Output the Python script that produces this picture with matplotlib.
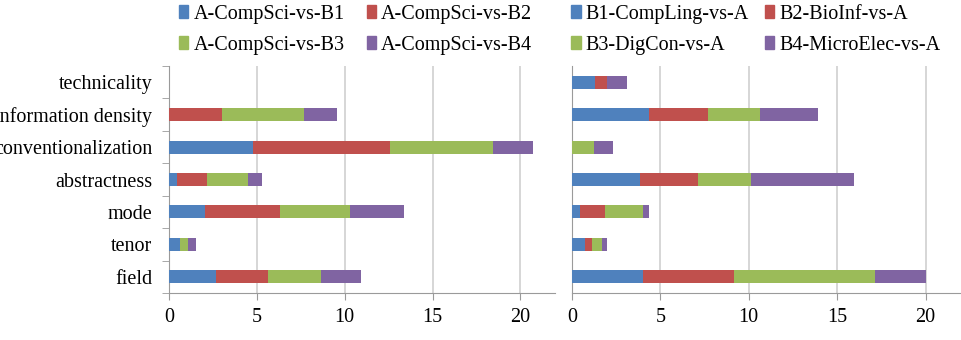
import matplotlib.pyplot as plt
import numpy as np
from matplotlib.patches import Patch

plt.rcParams['font.family'] = ['Liberation Serif', 'DejaVu Serif']

categories = ['field', 'tenor', 'mode', 'abstractness', 'conventionalization',
              'information density', 'technicality']

left_labels = ['A-CompSci-vs-B1', 'A-CompSci-vs-B2', 'A-CompSci-vs-B3', 'A-CompSci-vs-B4']
left_b1 = [2.68, 0.60, 2.02, 0.45, 4.76, 0.00, 0.00]
left_b2 = [2.97, 0.00, 4.29, 1.72, 7.79, 3.02, 0.00]
left_b3 = [2.97, 0.48, 3.99, 2.31, 5.92, 4.67, 0.00]
left_b4 = [2.33, 0.47, 3.08, 0.83, 2.23, 1.89, 0.00]

right_labels = ['B1-CompLing-vs-A', 'B2-BioInf-vs-A', 'B3-DigCon-vs-A', 'B4-MicroElec-vs-A']
right_b1 = [4.00, 0.72, 0.47, 3.88, 0.00, 4.39, 1.29]
right_b2 = [5.15, 0.40, 1.42, 3.27, 0.00, 3.30, 0.69]
right_b3 = [8.00, 0.60, 2.11, 3.00, 1.25, 2.97, 0.00]
right_b4 = [2.85, 0.28, 0.37, 5.82, 1.09, 3.27, 1.12]

colors = ['#4f81bd', '#c0504d', '#9bbb59', '#8064a2']
xticks = [0, 5, 10, 15, 20]
fsize = 14.5


def draw_panel(ax, series, show_labels):
    y = np.arange(len(categories))
    left = np.zeros(len(categories))
    for vals, col in zip(series, colors):
        ax.barh(y, vals, left=left, height=0.4, color=col, zorder=3)
        left = left + np.array(vals)
    ax.set_xlim(0, 22)
    ax.set_ylim(-0.5, len(categories) - 0.5)
    ax.set_xticks(xticks)
    ax.grid(axis='x', color='#d0d0d0', linewidth=1.2, zorder=0)
    for s in ['top', 'right']:
        ax.spines[s].set_visible(False)
    for s in ['left', 'bottom']:
        ax.spines[s].set_color('#9a9a9a')
    ax.tick_params(axis='x', colors='#9a9a9a', length=5, labelsize=fsize,
                   labelcolor='black', pad=6)
    if show_labels:
        ax.set_yticks(y)
        ax.set_yticklabels(categories, fontsize=fsize)
        ax.set_yticks(np.arange(-0.5, len(categories)), minor=True)
        ax.tick_params(axis='y', which='major', length=0, pad=12)
        ax.tick_params(axis='y', which='minor', length=5, colors='#9a9a9a')
    else:
        ax.set_yticks([])


fig = plt.figure(figsize=(9.61, 3.40), dpi=100)
ax1 = fig.add_axes([0.176, 0.138, 0.402, 0.668])
ax2 = fig.add_axes([0.595, 0.138, 0.405, 0.668])

draw_panel(ax1, [left_b1, left_b2, left_b3, left_b4], True)
draw_panel(ax2, [right_b1, right_b2, right_b3, right_b4], False)

order = [0, 2, 1, 3]
h_left = [Patch(color=colors[i]) for i in order]
h_right = [Patch(color=colors[i]) for i in order]
fig.legend(h_left, [left_labels[i] for i in order], ncol=2, frameon=False,
           loc='upper left', bbox_to_anchor=(0.172, 1.028), fontsize=fsize,
           handlelength=0.45, handleheight=0.6, handletextpad=0.25,
           columnspacing=1.1, labelspacing=0.6, borderaxespad=0.3)
fig.legend(h_right, [right_labels[i] for i in order], ncol=2, frameon=False,
           loc='upper left', bbox_to_anchor=(0.580, 1.028), fontsize=fsize,
           handlelength=0.45, handleheight=0.6, handletextpad=0.25,
           columnspacing=0.8, labelspacing=0.6, borderaxespad=0.3)

fig.savefig('out.png', dpi=100)
